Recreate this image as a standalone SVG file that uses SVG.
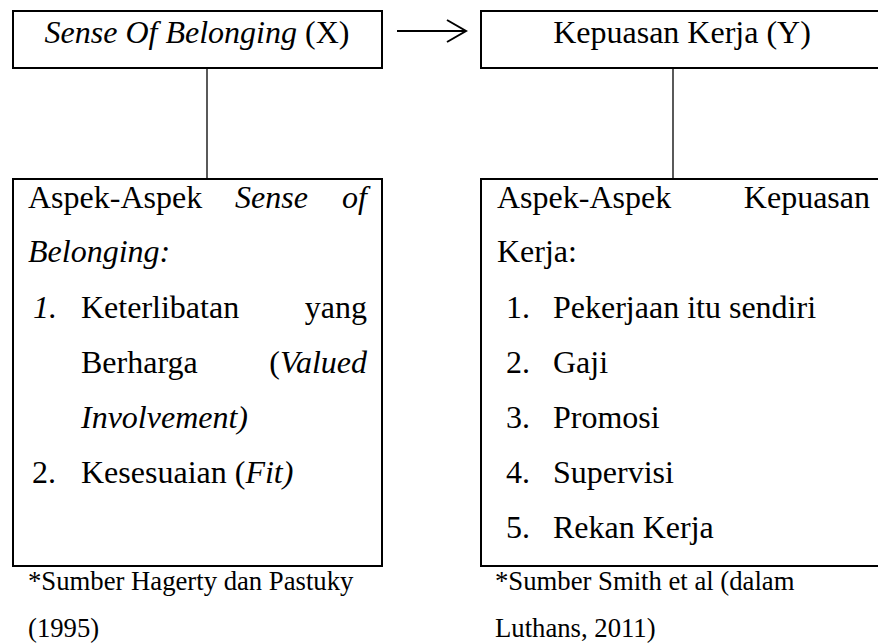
<svg xmlns="http://www.w3.org/2000/svg" width="878" height="644" viewBox="0 0 878 644">
<defs>
<style>
text{font-family:"Liberation Serif","Times New Roman",serif;fill:#000}
.b{font-size:32px}
.f{font-size:26.7px}
.i{font-style:italic}
.box{fill:#fff;stroke:#000;stroke-width:2}
.c{stroke:#000;fill:none}
</style>
<marker id="arr" markerWidth="22" markerHeight="26" refX="20" refY="12" orient="auto" markerUnits="userSpaceOnUse">
<path d="M1,1 L20,12 L1,23" fill="none" stroke="#000" stroke-width="2"/>
</marker>
</defs>
<rect width="878" height="644" fill="#fff"/>
<g id="connectors">
<line class="c" x1="397" y1="31" x2="466" y2="31" stroke-width="2" marker-end="url(#arr)"/>
<line class="c" x1="207" y1="69" x2="207" y2="178" stroke-width="1.3"/>
<line class="c" x1="673" y1="69" x2="673" y2="178" stroke-width="1.3"/>
</g>
<g id="nodeX">
<rect class="box" x="13" y="11" width="369" height="57"/>
<text class="b" x="197" y="43" text-anchor="middle"><tspan class="i">Sense Of Belonging </tspan>(X)</text>
</g>
<g id="nodeY">
<rect class="box" x="481" y="11" width="410" height="57"/>
<text class="b" x="682" y="43" text-anchor="middle">Kepuasan Kerja (Y)</text>
</g>
<g id="aspekX">
<rect class="box" x="13" y="179" width="369" height="387"/>
<text class="b" x="28" y="208">Aspek-Aspek</text>
<text class="b i" x="235" y="208">Sense</text>
<text class="b i" x="367" y="208" text-anchor="end">of</text>
<text class="b i" x="28" y="262">Belonging:</text>
<text class="b i" x="33" y="318">1.</text>
<text class="b" x="81" y="318">Keterlibatan</text>
<text class="b" x="367" y="318" text-anchor="end">yang</text>
<text class="b" x="81" y="373">Berharga</text>
<text class="b" x="367" y="373" text-anchor="end">(<tspan class="i">Valued</tspan></text>
<text class="b i" x="81" y="428">Involvement)</text>
<text class="b" x="32" y="483">2.</text>
<text class="b" x="81" y="483">Kesesuaian (<tspan class="i">Fit)</tspan></text>
</g>
<g id="aspekY">
<rect class="box" x="481" y="179" width="410" height="387"/>
<text class="b" x="497" y="208">Aspek-Aspek</text>
<text class="b" x="870" y="208" text-anchor="end">Kepuasan</text>
<text class="b" x="497" y="262">Kerja:</text>
<text class="b" x="506" y="318">1.</text>
<text class="b" x="553" y="318">Pekerjaan itu sendiri</text>
<text class="b" x="506" y="373">2.</text>
<text class="b" x="553" y="373">Gaji</text>
<text class="b" x="506" y="428">3.</text>
<text class="b" x="553" y="428">Promosi</text>
<text class="b" x="506" y="483">4.</text>
<text class="b" x="553" y="483">Supervisi</text>
<text class="b" x="506" y="538">5.</text>
<text class="b" x="553" y="538">Rekan Kerja</text>
</g>
<g id="sourceX">
<text class="f" x="28" y="590">*Sumber Hagerty dan Pastuky</text>
<text class="f" x="28" y="637">(1995)</text>
</g>
<g id="sourceY">
<text class="f" x="495" y="590">*Sumber Smith et al (dalam</text>
<text class="f" x="495" y="637">Luthans, 2011)</text>
</g>
</svg>
